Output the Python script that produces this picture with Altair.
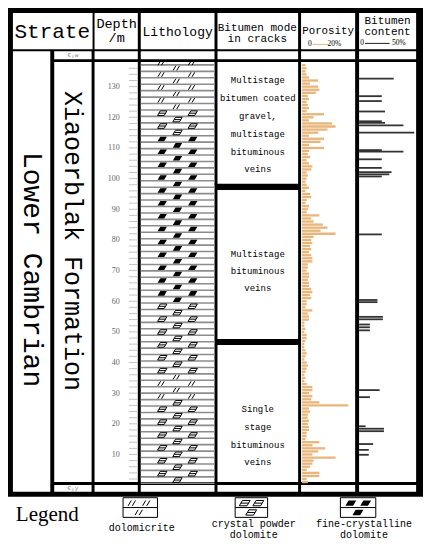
import altair as alt
import pandas as pd

# ---------------- data ----------------
porosity_depth = list(range(1, 138))
porosity = [2.5, 2, 7.5, 7.5, 2, 3.5, 4.5, 5, 14.5, 4.5,
            7, 10, 4.5, 7.5, 1.5, 2, 2, 3, 3, 2.5,
            3, 2.5, 2.5, 3.5, 3, 20, 7.5, 4, 4.5, 3,
            4.5, 4.5, 2, 1, 1.5, 1, 1.5, 2, 2.5, 2,
            1, 1.5, 2, 1.5, 1, 1, 1.5, 2, 2, 1,
            1.5, 1, 1, 3, 3, 2.5, 4.5, 1.5, 2, 2,
            4, 3.5, 4.5, 4, 3, 3, 2.5, 3, 3, 2,
            2.5, 2.5, 4.5, 4.5, 4, 3, 4, 3.5, 4.5, 4,
            5, 14.5, 8, 11, 9, 5, 4, 7.5, 2, 2.5,
            3, 1.5, 2, 4, 3.5, 1.5, 3, 2, 1.5, 2,
            2.5, 2, 4, 4.5, 3, 2, 3.5, 2.5, 3, 9.5,
            3, 8, 9.5, 3, 7, 11, 14.5, 13, 3, 5,
            9.5, 2, 3, 2.5, 2, 3, 2.5, 6, 7.5, 7,
            3.5, 7, 3, 2, 1.5, 2, 1.5]

bitumen_depth = [132.6, 126.9, 125.3, 121.9, 118.7, 118.2, 117.4, 115.0,
                 109.3, 108.8, 106.3, 103.5, 102.1, 101.4, 100.7, 81.8,
                 60.4, 59.7, 54.9, 54.1, 52.4, 51.5, 50.5, 31.0, 28.7,
                 19.2, 18.4, 17.6, 13.4, 11.5, 9.9]
bitumen = [32, 21, 21, 24, 21, 24, 41, 51,
           21, 41, 21, 21, 30, 28, 21, 21,
           17, 17, 22, 22, 10, 10, 10, 19, 10,
           6, 23, 23, 13, 9, 9]

lith_top = [138.3, 122, 114, 60, 36.5, 27]
lith_bottom = [122, 114, 60, 36.5, 27, 0.6]
lith_type = ["dolomicrite", "crystal", "fine", "crystal", "dolomicrite", "crystal"]

mode_breaks = [97.3, 46.7]
depth_labels = [10, 20, 30, 40, 50, 60, 70, 80, 90, 100, 110, 120, 130]
depth_ticks = list(range(2, 138, 2))

# ---------------- layout scales ----------------
W, H = 415, 532
RX = [5, 427]
RY = [5, 546]


def px(v):
    return (v - RX[0]) * W / (RX[1] - RX[0])


def py(v):
    return (v - RY[0]) * H / (RY[1] - RY[0])


LX = alt.Scale(domain=RX, range=[0, W], nice=False, zero=False)
LY = alt.Scale(domain=RY, range=[0, H], nice=False, zero=False)
DY = alt.Scale(domain=[0, 140], range=[py(490.2), py(490.2 - 3.117 * 140)], nice=False, zero=False)
PX = alt.Scale(domain=[0, 20], range=[px(304), px(351)], nice=False, zero=False)
BX = alt.Scale(domain=[0, 50], range=[px(362), px(417)], nice=False, zero=False)

MONO = "Liberation Mono"
SERIF = "Liberation Serif"


def box_layer(df, color, **kw):
    return alt.Chart(df).mark_rect(color=color, **kw).encode(
        x=alt.X("x1:Q", scale=LX, axis=None), x2="x2:Q",
        y=alt.Y("y1:Q", scale=LY, axis=None), y2="y2:Q")


# background and cells
bg = box_layer(pd.DataFrame({"x1": [5], "x2": [427], "y1": [5], "y2": [502]}), "black")

col_x1 = [52, 93, 140, 218, 303, 362]
col_x2 = [90, 137, 215, 300, 358, 420]
cells = []
hx1 = [10, 93, 140, 218, 303, 362]
hx2 = [91, 137, 215, 300, 358, 420]
for a, b in zip(hx1, hx2):
    cells.append((a, b, 10, 47))
for (y1, y2) in [(49, 57), (60, 487), (490, 497)]:
    for a, b in zip(col_x1, col_x2):
        cells.append((a, b, y1, y2))
cells.append((10, 48, 49, 497))
cells_df = pd.DataFrame(cells, columns=["x1", "x2", "y1", "y2"])
cell_layer = box_layer(cells_df, "white")

# lithology bedding lines
bed_lines = []
d = 0.6
while d < 138.3:
    bed_lines.append(round(d, 2))
    d += 2.1
bed_df = pd.DataFrame({"d": bed_lines, "xa": 140, "xb": 215})
bed_layer = alt.Chart(bed_df).mark_rule(color="#8c8c8c", strokeWidth=1.6).encode(
    x=alt.X("xa:Q", scale=LX, axis=None), x2="xb:Q",
    y=alt.Y("d:Q", scale=DY, axis=None))

# lithology symbols
rows = []
edges = bed_lines + [138.3]
for i in range(len(edges) - 1):
    c = (edges[i] + edges[i + 1]) / 2
    t = None
    for top, bot, ty in zip(lith_top, lith_bottom, lith_type):
        if bot <= c < top:
            t = ty
    xs = [177.5] if i % 2 == 0 else [162, 193]
    for xx in xs:
        rows.append({"d": c, "x": xx, "t": t})
sym_df = pd.DataFrame(rows)

DOLO = "M -0.75 0.38 L -0.3 -0.38 M -0.15 0.38 L 0.3 -0.38"
CRYS = "M -0.8 0.38 L -0.35 -0.38 L 0.75 -0.38 L 0.3 0.38 Z M -0.57 0 L 0.52 0"
FINE = "M -0.8 0.38 L -0.35 -0.38 L 0.75 -0.38 L 0.3 0.38 Z"


def sym_layer(df, shape, filled, size, yscale, yfield="d"):
    m = alt.Chart(df).mark_point(shape=shape, filled=filled, color="black",
                                 strokeWidth=1, size=size, opacity=1)
    return m.encode(x=alt.X("x:Q", scale=LX, axis=None),
                    y=alt.Y(yfield + ":Q", scale=yscale, axis=None))


sym_dolo = sym_layer(sym_df[sym_df.t == "dolomicrite"], DOLO, False, 144, DY)
sym_crys = sym_layer(sym_df[sym_df.t == "crystal"], CRYS, False, 144, DY)
sym_fine = sym_layer(sym_df[sym_df.t == "fine"], FINE, True, 144, DY)

# depth ticks and labels
tick_df = pd.DataFrame({"d": depth_ticks, "xa": 128, "xb": 137})
tick_layer = alt.Chart(tick_df).mark_rule(color="#c4c4c4", strokeWidth=1).encode(
    x=alt.X("xa:Q", scale=LX, axis=None), x2="xb:Q",
    y=alt.Y("d:Q", scale=DY, axis=alt.Axis(
        orient="left", values=depth_labels, ticks=False, tickSize=0, domain=False,
        grid=False, title=None, offset=-(px(118) + 2), labelPadding=2, zindex=2,
        labelFont=SERIF, labelFontSize=8, labelColor="#666")))

# bitumen mode breaks
brk_df = pd.DataFrame({"d1": [m - 1 for m in mode_breaks], "d2": [m + 1 for m in mode_breaks],
                       "xa": 217, "xb": 301})
brk_layer = alt.Chart(brk_df).mark_rect(color="black").encode(
    x=alt.X("xa:Q", scale=LX, axis=None), x2="xb:Q",
    y=alt.Y("d1:Q", scale=DY, axis=None), y2="d2:Q")

# porosity bars
por_df = pd.DataFrame({"d": porosity_depth, "p": porosity})
por_df["d1"] = por_df.d - 0.38
por_df["d2"] = por_df.d + 0.38
por_df["z"] = 0
por_layer = alt.Chart(por_df).mark_rect(color="#E8B67B").encode(
    x=alt.X("z:Q", scale=PX, axis=None), x2="p:Q",
    y=alt.Y("d1:Q", scale=DY, axis=None), y2="d2:Q")

# bitumen content bars
bit_df = pd.DataFrame({"d": bitumen_depth, "b": bitumen, "z": 0})
bit_layer = alt.Chart(bit_df).mark_rule(color="#333333", strokeWidth=1.8).encode(
    x=alt.X("z:Q", scale=BX, axis=None), x2="b:Q",
    y=alt.Y("d:Q", scale=DY, axis=None))

# header scale lines
hl_df = pd.DataFrame({"x1": [315, 368], "x2": [331, 393], "y": [42, 41], "c": ["#E8B67B", "#222222"]})
hl_layer = alt.Chart(hl_df).mark_rule(strokeWidth=1).encode(
    x=alt.X("x1:Q", scale=LX, axis=None), x2="x2:Q",
    y=alt.Y("y:Q", scale=LY, axis=None), color=alt.Color("c:N", scale=None))

# texts
texts_mono = [
    ("Strate", 50, 29, 21, 0, "black"),
    ("Depth", 115.5, 21, 13.5, 0, "black"),
    ("/m", 115.5, 36, 13.5, 0, "black"),
    ("Lithology", 177.5, 29, 13, 0, "black"),
    ("Bitumen mode", 258.5, 25, 11, 0, "black"),
    ("in cracks", 258.5, 37, 11, 0, "black"),
    ("Porosity", 330.5, 28, 10.8, 0, "black"),
    ("Bitumen", 391, 18, 11, 0, "black"),
    ("content", 391, 29, 11, 0, "black"),
    ("Є₁w", 71, 53, 6, 0, "#888888"),
    ("Є₁y", 71, 493.5, 6, 0, "#888888"),
    ("Lower Cambrian", 29.5, 271, 28, 90, "black"),
    ("Xiaoerblak Formation", 71, 242, 25, 90, "black"),
    ("Multistage", 259, 78, 9, 0, "black"),
    ("bitumen coated", 259, 96.5, 9, 0, "black"),
    ("gravel,", 259, 115, 9, 0, "black"),
    ("multistage", 259, 133, 9, 0, "black"),
    ("bituminous", 259, 151, 9, 0, "black"),
    ("veins", 259, 169, 9, 0, "black"),
    ("Multistage", 259, 255, 9, 0, "black"),
    ("bituminous", 259, 272.5, 9, 0, "black"),
    ("veins", 259, 290, 9, 0, "black"),
    ("Single", 259, 413, 9, 0, "black"),
    ("stage", 259, 431, 9, 0, "black"),
    ("bituminous", 259, 449, 9, 0, "black"),
    ("veins", 259, 467, 9, 0, "black"),
    ("dolomicrite", 141, 534, 10, 0, "black"),
    ("crystal powder", 255, 530, 10, 0, "black"),
    ("dolomite", 255, 540.5, 10, 0, "black"),
    ("fine-crystalline", 367, 530, 10, 0, "black"),
    ("dolomite", 367, 540.5, 10, 0, "black"),
]
texts_serif = [
    ("Legend", 45, 521, 21, 0, "black"),
    ("0", 312, 42, 7.5, 0, "black"),
    ("20%", 337, 42, 7.5, 0, "black"),
    ("0", 365, 41, 7.5, 0, "black"),
    ("50%", 402.5, 41, 7.5, 0, "black"),
]


def text_layer(rows_, font):
    df = pd.DataFrame(rows_, columns=["t", "x", "y", "s", "a", "c"])
    return alt.Chart(df).mark_text(font=font, align="center", baseline="middle").encode(
        x=alt.X("x:Q", scale=LX, axis=None), y=alt.Y("y:Q", scale=LY, axis=None),
        text="t:N", size=alt.Size("s:Q", scale=None),
        angle=alt.Angle("a:Q", scale=None), color=alt.Color("c:N", scale=None))


mono_layer = text_layer(texts_mono, MONO)
serif_layer = text_layer(texts_serif, SERIF)

# legend boxes
leg_x1 = [122, 236, 343]
leg_x2 = [157, 269, 379]
leg_box_df = pd.DataFrame({"x1": leg_x1, "x2": leg_x2, "y1": 503, "y2": 523})
leg_box = alt.Chart(leg_box_df).mark_rect(fill="white", stroke="black", strokeWidth=1).encode(
    x=alt.X("x1:Q", scale=LX, axis=None), x2="x2:Q",
    y=alt.Y("y1:Q", scale=LY, axis=None), y2="y2:Q")
leg_mid = alt.Chart(pd.DataFrame({"x1": leg_x1, "x2": leg_x2, "y": 513})).mark_rule(
    color="black", strokeWidth=1).encode(
    x=alt.X("x1:Q", scale=LX, axis=None), x2="x2:Q", y=alt.Y("y:Q", scale=LY, axis=None))

leg_sym = []
for (a, b), shape, filled in zip(zip(leg_x1, leg_x2), [DOLO, CRYS, FINE], [False, False, True]):
    w = b - a
    df = pd.DataFrame({"x": [a + w * 0.3, a + w * 0.72, a + w * 0.5], "y": [508.5, 508.5, 518]})
    leg_sym.append(sym_layer(df, shape, filled, 196, LY, yfield="y"))

layers = [bg, cell_layer, bed_layer, sym_dolo, sym_crys, sym_fine, tick_layer, brk_layer,
          por_layer, bit_layer, hl_layer, leg_box, leg_mid] + leg_sym + [mono_layer, serif_layer]

chart = alt.layer(*layers).resolve_scale(x="independent", y="independent").properties(
    width=W, height=H, padding=0, autosize=alt.AutoSizeParams(type="none")
).configure_view(strokeWidth=0)

chart.save("out.html", embed_options={"renderer": "svg", "actions": False})
